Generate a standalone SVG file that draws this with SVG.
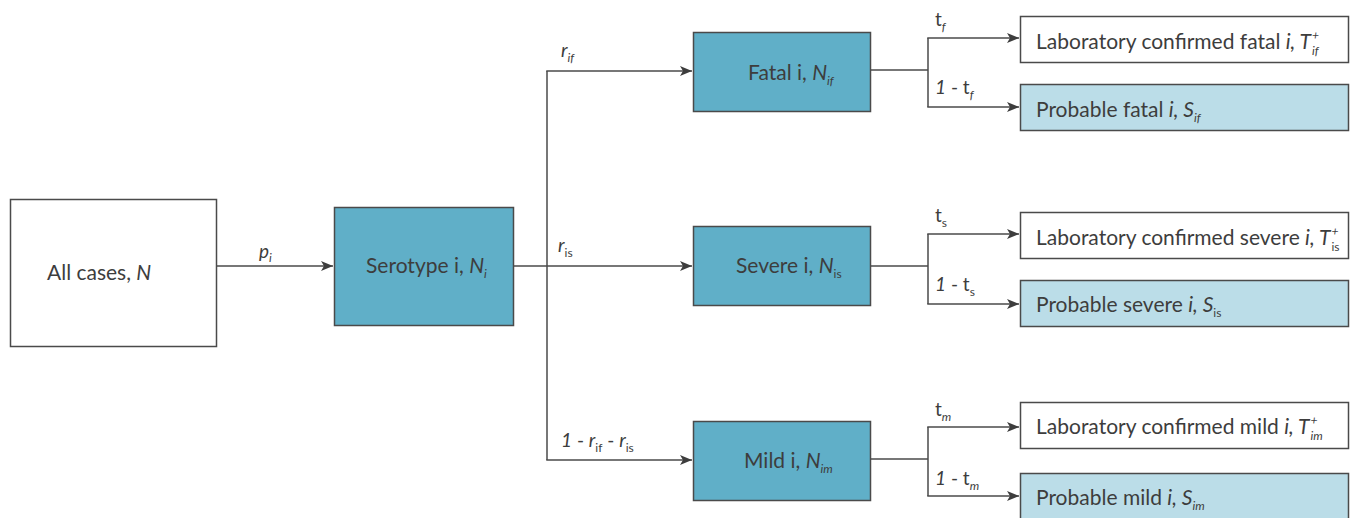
<svg xmlns="http://www.w3.org/2000/svg" width="1352" height="518" viewBox="0 0 1352 518">
<style>
text{font-family:Lato,"Liberation Sans",sans-serif;font-size:21px;fill:#3d3d3d}
.lbl{font-size:19px}
.it{font-style:italic}
.sub{font-size:12px}
.dark{fill:#60afc8;stroke:#4a4a4a;stroke-width:1.5}
.light{fill:#bbdde8;stroke:#4a4a4a;stroke-width:1.5}
.white{fill:#ffffff;stroke:#4a4a4a;stroke-width:1.5}
.c{fill:none;stroke:#4a4a4a;stroke-width:1.5}
</style>
<defs>
<marker id="ah" viewBox="0 0 12 10" refX="12" refY="5" markerWidth="12" markerHeight="10" markerUnits="userSpaceOnUse" orient="auto">
<path d="M0,0 L12,5 L0,10 L3,5 Z" fill="#3d3d3d"/>
</marker>
</defs>
<g id="connectors">
<line class="c" x1="217" y1="266" x2="333" y2="266" marker-end="url(#ah)"/>
<line class="c" x1="514" y1="266" x2="692" y2="266" marker-end="url(#ah)"/>
<line class="c" x1="547" y1="71" x2="547" y2="460"/>
<line class="c" x1="546.25" y1="71" x2="692" y2="71" marker-end="url(#ah)"/>
<line class="c" x1="546.25" y1="460" x2="692" y2="460" marker-end="url(#ah)"/>
<line class="c" x1="871" y1="70" x2="928" y2="70"/>
<line class="c" x1="928" y1="38" x2="928" y2="107"/>
<line class="c" x1="927.25" y1="38" x2="1019" y2="38" marker-end="url(#ah)"/>
<line class="c" x1="927.25" y1="107" x2="1019" y2="107" marker-end="url(#ah)"/>
<line class="c" x1="871" y1="266" x2="928" y2="266"/>
<line class="c" x1="928" y1="234" x2="928" y2="304"/>
<line class="c" x1="927.25" y1="234" x2="1019" y2="234" marker-end="url(#ah)"/>
<line class="c" x1="927.25" y1="304" x2="1019" y2="304" marker-end="url(#ah)"/>
<line class="c" x1="871" y1="459" x2="928" y2="459"/>
<line class="c" x1="928" y1="427" x2="928" y2="496"/>
<line class="c" x1="927.25" y1="427" x2="1019" y2="427" marker-end="url(#ah)"/>
<line class="c" x1="927.25" y1="496" x2="1019" y2="496" marker-end="url(#ah)"/>
</g>
<g id="edge-labels">
<text x="259" y="258" class="it lbl">p<tspan class="sub" dy="4">i</tspan></text>
<text x="561" y="57" class="it lbl">r<tspan class="sub" dy="5">if</tspan></text>
<text x="558" y="252" class="lbl"><tspan class="it">r</tspan><tspan class="sub" dy="5">is</tspan></text>
<text x="561" y="447" class="lbl"><tspan class="it">1</tspan> - <tspan class="it">r</tspan><tspan class="sub" dy="5">if</tspan><tspan dy="-5"> - </tspan><tspan class="it">r</tspan><tspan class="sub" dy="5">is</tspan></text>
<text x="935" y="26" class="lbl">t<tspan class="sub it" dy="5">f</tspan></text>
<text x="935" y="94" class="lbl"><tspan class="it">1</tspan> - t<tspan class="sub it" dy="5">f</tspan></text>
<text x="935" y="222" class="lbl">t<tspan class="sub" dy="5">s</tspan></text>
<text x="935" y="291" class="lbl"><tspan class="it">1</tspan> - t<tspan class="sub" dy="5">s</tspan></text>
<text x="935" y="416" class="lbl">t<tspan class="sub it" dy="5">m</tspan></text>
<text x="935" y="485" class="lbl"><tspan class="it">1</tspan> - t<tspan class="sub it" dy="5">m</tspan></text>
</g>
<g id="all-cases">
<rect class="white" x="10.5" y="199.5" width="206" height="147"/>
<text x="47" y="280">All cases, <tspan class="it">N</tspan></text>
</g>
<g id="serotype">
<rect class="dark" x="334.5" y="207.5" width="179" height="118"/>
<text x="366" y="273">Serotype i, <tspan class="it">N</tspan><tspan class="sub it" dy="5">i</tspan></text>
</g>
<g id="fatal">
<rect class="dark" x="693.5" y="32.5" width="177" height="79"/>
<text x="748" y="80">Fatal i, <tspan class="it">N</tspan><tspan class="sub it" dy="5">if</tspan></text>
</g>
<g id="severe">
<rect class="dark" x="693.5" y="226.5" width="177" height="79"/>
<text x="736" y="273">Severe i, <tspan class="it">N</tspan><tspan class="sub" dy="5">is</tspan></text>
</g>
<g id="mild">
<rect class="dark" x="693.5" y="421.5" width="177" height="79"/>
<text x="744" y="468">Mild i, <tspan class="it">N</tspan><tspan class="sub it" dy="5">im</tspan></text>
</g>
<g id="lab-fatal">
<rect class="white" x="1020.5" y="16.5" width="328" height="46"/>
<text x="1036" y="49">Laboratory confirmed fatal <tspan class="it">i, T</tspan><tspan class="sub it" dx="1" dy="-10">+</tspan><tspan class="sub it" dx="-7" dy="16">if</tspan></text>
</g>
<g id="prob-fatal">
<rect class="light" x="1020.5" y="84.5" width="328" height="46"/>
<text x="1036" y="117">Probable fatal <tspan class="it">i, S</tspan><tspan class="sub it" dy="5">if</tspan></text>
</g>
<g id="lab-severe">
<rect class="white" x="1020.5" y="212.5" width="328" height="46"/>
<text x="1036" y="245">Laboratory confirmed severe <tspan class="it">i, T</tspan><tspan class="sub it" dx="1" dy="-10">+</tspan><tspan class="sub" dx="-7" dy="16">is</tspan></text>
</g>
<g id="prob-severe">
<rect class="light" x="1020.5" y="280.5" width="328" height="46"/>
<text x="1036" y="312">Probable severe <tspan class="it">i, S</tspan><tspan class="sub" dy="5">is</tspan></text>
</g>
<g id="lab-mild">
<rect class="white" x="1020.5" y="402.5" width="328" height="46"/>
<text x="1036" y="434">Laboratory confirmed mild <tspan class="it">i, T</tspan><tspan class="sub it" dx="1" dy="-10">+</tspan><tspan class="sub it" dx="-7" dy="16">im</tspan></text>
</g>
<g id="prob-mild">
<rect class="light" x="1020.5" y="473.5" width="328" height="50"/>
<text x="1036" y="505">Probable mild <tspan class="it">i, S</tspan><tspan class="sub it" dy="5">im</tspan></text>
</g>
</svg>
